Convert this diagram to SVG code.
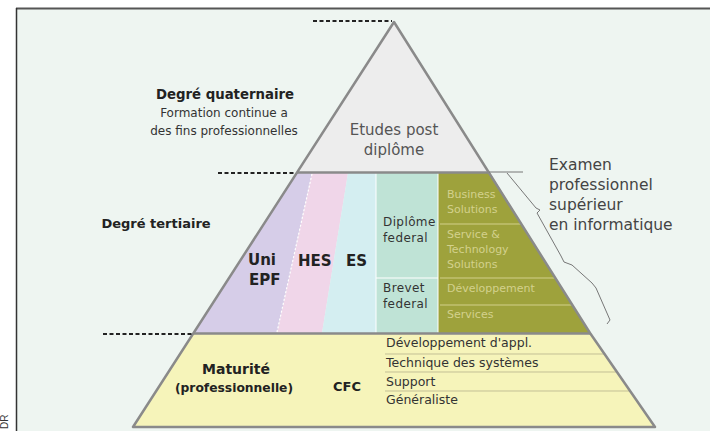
<svg xmlns="http://www.w3.org/2000/svg" width="710" height="431" viewBox="0 0 710 431">
<style>
text{font-family:"DejaVu Sans","Liberation Sans",sans-serif;fill:#333}
.b{font-weight:bold;fill:#222}
.lbl{font-size:12px}
.ol{font-size:11px;fill:#d3d18c}
.dash{stroke:#222;stroke-width:2;stroke-dasharray:4 2.5;fill:none}
.edge{stroke:#8a8a8a;stroke-width:2.5;fill:none;stroke-linejoin:round}
.wl{stroke:#ffffff;stroke-width:1;fill:none}
.ow{stroke:#d2d08a;stroke-width:1;fill:none}
.yl{stroke:#c3bf95;stroke-width:1;fill:none}
</style>
<rect x="0" y="0" width="710" height="431" fill="#ffffff"/>
<rect x="16" y="8" width="694" height="423" fill="#eef5f1"/>
<line x1="16" y1="8.5" x2="710" y2="8.5" stroke="#555" stroke-width="2"/>
<line x1="16.5" y1="8" x2="16.5" y2="431" stroke="#333" stroke-width="1.5"/>
<text transform="translate(8,429) rotate(-90)" font-size="10" style="font-family:'Liberation Sans',sans-serif">DR</text>

<g id="quaternaire">
<polygon points="394,22 297,172 489,172" fill="#ededed"/>
<text x="394" y="135" text-anchor="middle" font-size="15" style="fill:#555">Etudes post</text>
<text x="394" y="155" text-anchor="middle" font-size="15" style="fill:#555">diplôme</text>
</g>

<g id="tertiaire">
<polygon points="297,173 312,173 277,333 193,333" fill="#d6cde8"/>
<polygon points="312,173 348,173 322,333 277,333" fill="#f0d6e9"/>
<polygon points="348,173 376,173 376,333 322,333" fill="#d4eef1"/>
<polygon points="376,173 438,173 438,333 376,333" fill="#bfe3d6"/>
<polygon points="438,173 490,173 590,333 438,333" fill="#9ea23c"/>
<line x1="312" y1="174" x2="277" y2="332" stroke="#fff" stroke-width="1.2" stroke-dasharray="2 2"/>
<line class="wl" x1="376" y1="173" x2="376" y2="333"/>
<line class="wl" x1="438" y1="173" x2="438" y2="333"/>
<line class="wl" x1="376" y1="278" x2="438" y2="278"/>
<line class="ow" x1="440" y1="224" x2="522" y2="224"/>
<line class="ow" x1="440" y1="278" x2="556" y2="278"/>
<line class="ow" x1="440" y1="305" x2="572" y2="305"/>
</g>

<g id="uni-epf">
<text class="b" x="248" y="265" font-size="15">Uni</text>
<text class="b" x="249" y="285" font-size="15">EPF</text>
</g>
<g id="hes"><text class="b" x="298" y="266" font-size="15">HES</text></g>
<g id="es"><text class="b" x="346" y="266" font-size="15">ES</text></g>
<g id="diplome">
<text class="lbl" x="383" y="226" letter-spacing="0.4">Diplôme</text>
<text class="lbl" x="383" y="242" letter-spacing="0.4">federal</text>
</g>
<g id="brevet">
<text class="lbl" x="383" y="292" letter-spacing="0.4">Brevet</text>
<text class="lbl" x="383" y="308" letter-spacing="0.4">federal</text>
</g>
<g id="olive">
<text class="ol" x="447" y="198">Business</text>
<text class="ol" x="447" y="213">Solutions</text>
<text class="ol" x="447" y="238">Service &amp;</text>
<text class="ol" x="447" y="253">Technology</text>
<text class="ol" x="447" y="268">Solutions</text>
<text class="ol" x="447" y="292">Développement</text>
<text class="ol" x="447" y="318">Services</text>
</g>

<g id="secondaire">
<polygon points="193,334 590,334 655,427 133,427" fill="#f6f4ba"/>
<line class="yl" x1="385" y1="354" x2="604" y2="354"/>
<line class="yl" x1="385" y1="372" x2="617" y2="372"/>
<line class="yl" x1="385" y1="391" x2="630" y2="391"/>
<text class="b" x="236" y="374" text-anchor="middle" font-size="14">Maturité</text>
<text class="b" x="234" y="392" text-anchor="middle" font-size="12.3">(professionnelle)</text>
<text class="b" x="333" y="391" font-size="13">CFC</text>
<text x="386" y="347" font-size="12.5">Développement d'appl.</text>
<text x="386" y="367" font-size="12.5">Technique des systèmes</text>
<text x="386" y="386" font-size="12.5">Support</text>
<text x="386" y="404" font-size="12.5">Généraliste</text>
</g>

<g id="outline">
<path class="edge" d="M394,22 L133,427 L655,427 L590,333 L394,22 Z"/>
<line class="edge" x1="297" y1="172.5" x2="489" y2="172.5"/>
<line class="edge" x1="193" y1="333.5" x2="590" y2="333.5"/>
</g>

<g id="left-labels">
<text class="b" x="225" y="99" text-anchor="middle" font-size="13.3">Degré quaternaire</text>
<text x="224" y="117" text-anchor="middle" font-size="12">Formation continue a</text>
<text x="224" y="135" text-anchor="middle" font-size="12">des fins professionnelles</text>
<text class="b" x="156" y="228" text-anchor="middle" font-size="13">Degré tertiaire</text>
</g>

<g id="examen">
<text x="549" y="170" font-size="15.5" style="fill:#444">Examen</text>
<text x="549" y="190" font-size="15.5" style="fill:#444">professionnel</text>
<text x="549" y="210" font-size="15.5" style="fill:#444">supérieur</text>
<text x="549" y="230" font-size="15.5" style="fill:#444">en informatique</text>
</g>

<g id="connectors">
<line class="dash" x1="313" y1="21" x2="392" y2="21"/>
<line class="dash" x1="218" y1="173" x2="296" y2="173"/>
<line class="dash" x1="103" y1="334" x2="193" y2="334"/>
<line x1="489" y1="172" x2="523" y2="172" stroke="#777" stroke-width="1"/>
<path d="M507,173 L536,208 L540,210 L537,213 L561,256 L564,262 L572,265 L592,283 L596,288 L610,320 L607,324" fill="none" stroke="#777" stroke-width="1"/>
</g>
</svg>
